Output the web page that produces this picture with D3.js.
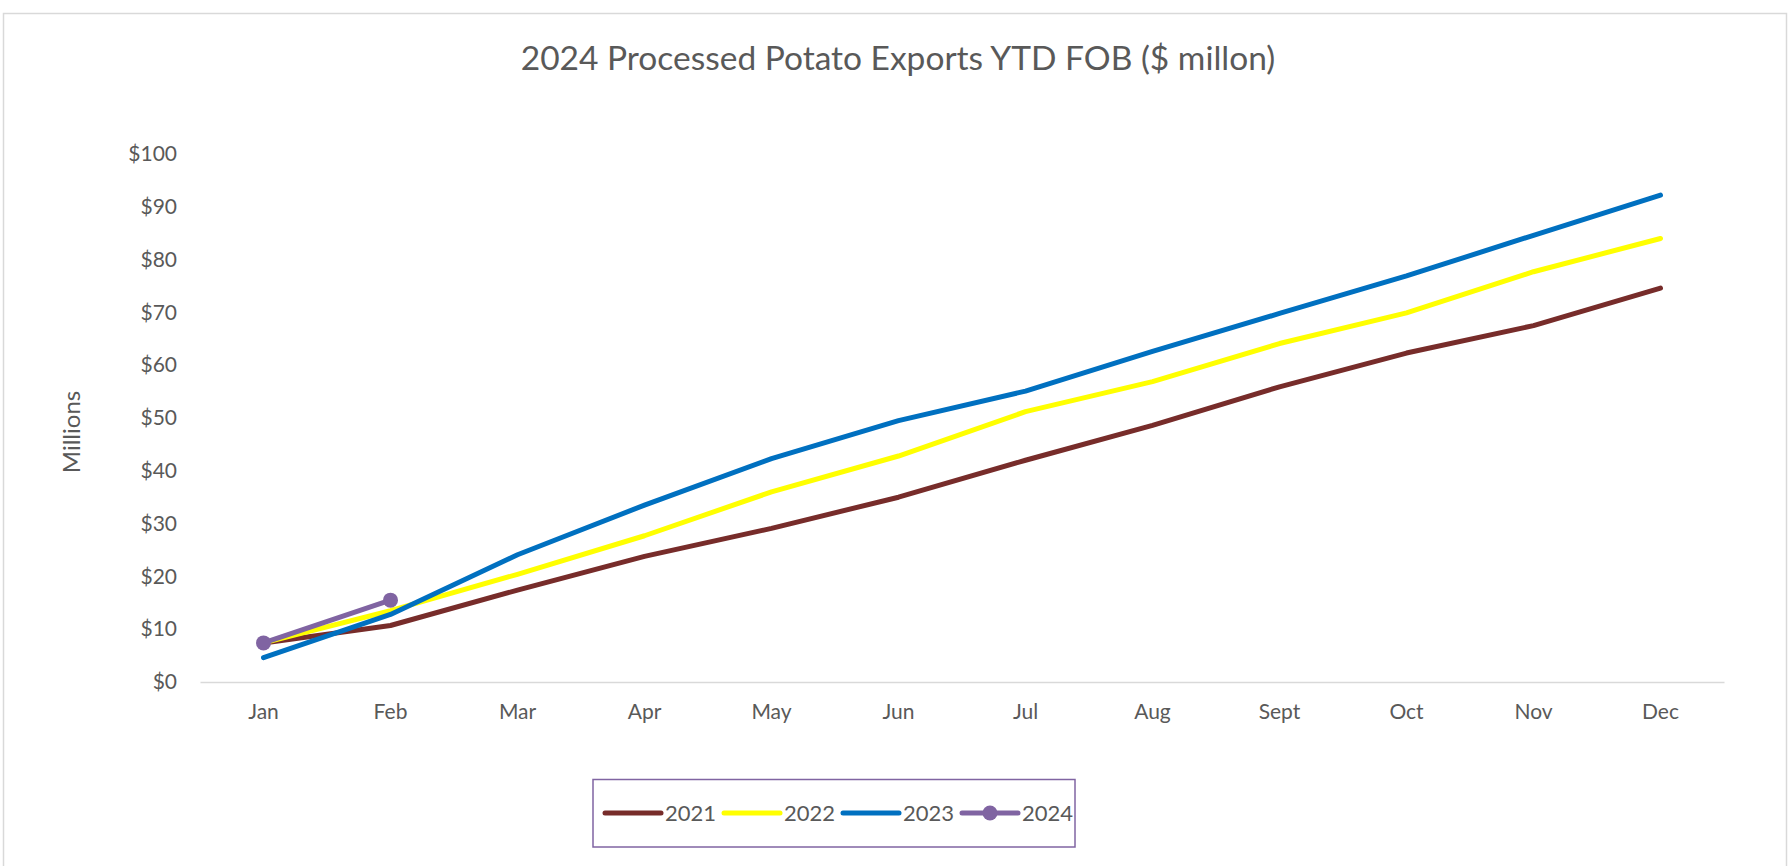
<!DOCTYPE html>
<html><head><meta charset="utf-8">
<script src="https://cdn.jsdelivr.net/npm/d3@7"></script>
<style>body{margin:0;background:#fff}svg{display:block}</style>
</head><body>
<script>
const months = ["Jan","Feb","Mar","Apr","May","Jun","Jul","Aug","Sept","Oct","Nov","Dec"];
const yTicks = [0,10,20,30,40,50,60,70,80,90,100];
const y2021 = [7.4,10.7,17.4,23.8,29.1,35.0,42.0,48.6,55.9,62.3,67.5,74.6];
const y2022 = [7.4,13.5,20.4,27.7,36.0,42.8,51.2,56.9,64.1,69.9,77.7,84.0];
const y2023 = [4.6,12.8,24.1,33.5,42.3,49.5,55.1,62.6,69.8,76.9,84.6,92.2];
const y2024 = [7.4,15.5];
const seriesNames = ["2021","2022","2023","2024"];
const seriesColors = ["#772C2A","#FFFF00","#0070C0","#8064A2"];
const seriesData = [y2021,y2022,y2023,y2024];

const W = 1791, H = 866;
const font = "Lato, 'Open Sans', sans-serif";
const svg = d3.select("body").append("svg").attr("width",W).attr("height",H);
svg.append("rect").attr("x",3.5).attr("y",13.5).attr("width",1783).attr("height",900)
  .attr("fill","#fff").attr("stroke","#D9D9D9").attr("stroke-width",1.5);

const x = d3.scaleBand().domain(months).range([200,1724]);
const y = d3.scaleLinear().domain([0,100]).range([682,154]);

svg.append("text").attr("x",898).attr("y",70).attr("text-anchor","middle")
  .attr("font-family",font).attr("font-size",33.5).attr("fill","#595959")
  .text("2024 Processed Potato Exports YTD FOB ($ millon)");

// y axis labels
const ya = svg.append("g").attr("transform","translate(200,0)")
  .call(d3.axisLeft(y).tickValues(yTicks).tickSize(0).tickPadding(23).tickFormat(d=>"$"+d));
ya.select(".domain").remove();
ya.selectAll("text").attr("font-family",font).attr("font-size",21).attr("fill","#595959");

// x axis
const xa = svg.append("g").attr("transform","translate(0,682)")
  .call(d3.axisBottom(x).tickSize(0).tickPadding(22));
xa.select(".domain").attr("stroke","#D9D9D9").attr("stroke-width",1.5);
xa.selectAll("text").attr("font-family",font).attr("font-size",21).attr("fill","#595959");

svg.append("text").attr("transform","translate(80,432) rotate(-90)").attr("text-anchor","middle")
  .attr("font-family",font).attr("font-size",24).attr("fill","#595959").text("Millions");

const line = d3.line().x((d,i)=>x(months[i])+x.bandwidth()/2).y(d=>y(d));
seriesData.forEach((s,k)=>{
  svg.append("path").datum(s).attr("d",line).attr("fill","none")
    .attr("stroke",seriesColors[k]).attr("stroke-width",5)
    .attr("stroke-linecap","round").attr("stroke-linejoin","round");
});
svg.selectAll("circle.m").data(y2024).enter().append("circle")
  .attr("cx",(d,i)=>x(months[i])+x.bandwidth()/2).attr("cy",d=>y(d)).attr("r",7.5)
  .attr("fill",seriesColors[3]);

// legend
svg.append("rect").attr("x",593).attr("y",779.5).attr("width",482).attr("height",67.5)
  .attr("fill","#fff").attr("stroke","#8064A2").attr("stroke-width",1.5);
const legX = [605,724,843,962];
seriesNames.forEach((n,k)=>{
  const g = svg.append("g").attr("transform",`translate(${legX[k]},813)`);
  g.append("line").attr("x1",0).attr("x2",56).attr("stroke",seriesColors[k])
    .attr("stroke-width",5).attr("stroke-linecap","round");
  if(k===3) g.append("circle").attr("cx",28).attr("r",7.5).attr("fill",seriesColors[k]);
  g.append("text").attr("x",60).attr("y",8).attr("font-family",font).attr("font-size",22)
    .attr("fill","#595959").text(n);
});
</script>
</body></html>
